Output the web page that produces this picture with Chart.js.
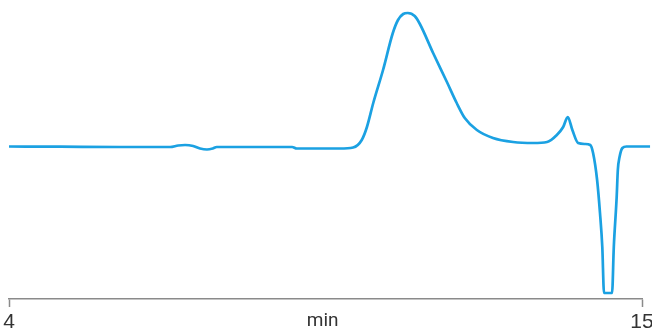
<!DOCTYPE html>
<html>
<head>
<meta charset="utf-8">
<style>
  html, body { margin: 0; padding: 0; background: #ffffff; }
  #wrap { width: 652px; height: 331px; }
</style>
<script src="https://cdn.jsdelivr.net/npm/chart.js@4.4.1/dist/chart.umd.min.js"></script>
</head>
<body>
<div id="wrap"><canvas id="chart" width="652" height="331"></canvas></div>
<script>
// Retention time (min) and detector signal (arbitrary units, baseline = 0)
const timeMin = [
  4.00, 4.89, 5.93, 6.80, 6.94, 7.06, 7.20, 7.32, 7.44, 7.54, 7.61, 8.92, 9.00,
  9.75, 9.98, 10.13, 10.22, 10.33, 10.50, 10.67, 10.76, 10.85, 10.93,
  11.05, 11.14, 11.37, 11.61, 11.78, 11.92, 12.13, 12.41, 12.76, 13.11,
  13.35, 13.52, 13.63, 13.71, 13.79, 13.89, 14.01, 14.10, 14.15, 14.22,
  14.27, 14.31, 14.34, 14.48, 14.51, 14.56, 14.58, 14.61, 14.66, 14.73, 15.14
];
const signal = [
  0.5, 0.3, 0, 0, 1.5, 2, 1, -1.5, -2.5, -1.5, 0, 0, -1.5,
  -1.5, -0.5, 7, 20, 44, 77, 114, 127, 133, 134,
  131, 123, 94, 65, 44, 29, 17, 9, 5, 4,
  5, 12, 20, 30, 17, 4, 3, 2, -6, -33,
  -66, -100, -146, -146, -100, -50, -23, -10, -1, 0.5, 0.5
];
// Axis labels: ends of the time range and the unit in the middle
const tickValues = [4, 9.45, 15];
const tickLabels = ['4', 'min', '15'];

const points = timeMin.map((t, i) => ({ x: t, y: signal[i] }));

new Chart(document.getElementById('chart'), {
  type: 'line',
  data: {
    datasets: [{
      data: points,
      borderColor: '#1ba1e2',
      borderWidth: 2.7,
      pointRadius: 0,
      fill: false,
      cubicInterpolationMode: 'monotone',
      clip: false
    }]
  },
  options: {
    responsive: false,
    animation: false,
    events: [],
    layout: { padding: { left: 9, right: 10, top: 0, bottom: 0 } },
    plugins: { legend: { display: false }, tooltip: { enabled: false } },
    scales: {
      x: {
        type: 'linear',
        min: 4,
        max: 15,
        afterBuildTicks: (axis) => { axis.ticks = tickValues.map(v => ({ value: v })); },
        afterFit: (axis) => {
          axis.paddingLeft = 0;
          axis.paddingRight = 0;
          axis.height = 32;
        },
        border: { display: true, color: '#8a8a8a', width: 1.5 },
        grid: {
          display: true,
          drawOnChartArea: false,
          drawTicks: true,
          tickLength: 8,
          tickWidth: 1.5,
          tickColor: (ctx) => (ctx.index === 1 ? 'rgba(0,0,0,0)' : '#8a8a8a')
        },
        ticks: {
          autoSkip: false,
          maxRotation: 0,
          padding: 5,
          color: '#333333',
          font: (ctx) => ({
            family: ctx.index === 1 ? 'Roboto, "Liberation Sans", sans-serif' : '"Liberation Sans Narrow", "Liberation Sans", sans-serif',
            size: ctx.index === 1 ? 19 : 21,
            lineHeight: 1
          }),
          callback: (value, index) => tickLabels[index]
        }
      },
      y: {
        display: false,
        min: -152,
        max: 147
      }
    }
  }
});
</script>
</body>
</html>
